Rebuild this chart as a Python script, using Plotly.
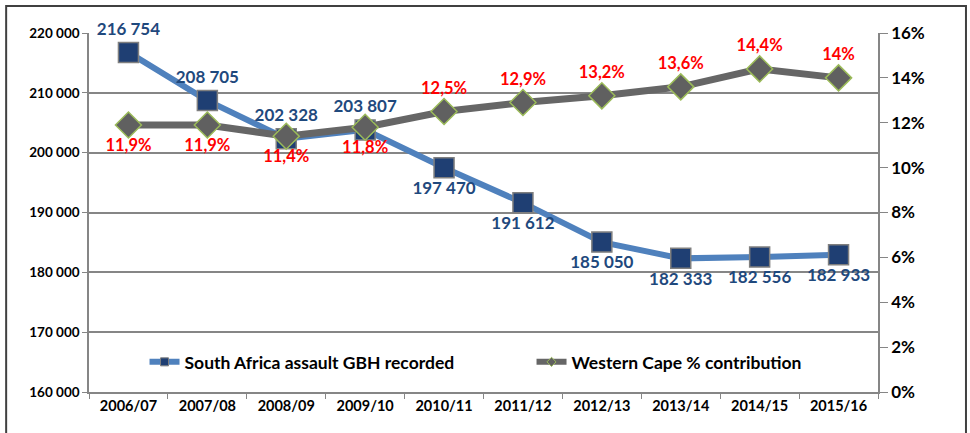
import plotly.graph_objects as go

categories = ["2006/07", "2007/08", "2008/09", "2009/10", "2010/11",
              "2011/12", "2012/13", "2013/14", "2014/15", "2015/16"]
sa_gbh = [216754, 208705, 202328, 203807, 197470, 191612, 185050, 182333, 182556, 182933]
sa_labels = ["216 754", "208 705", "202 328", "203 807", "197 470",
             "191 612", "185 050", "182 333", "182 556", "182 933"]
sa_pos = ["top center"] * 4 + ["bottom center"] * 6
wc_pct = [0.119, 0.119, 0.114, 0.118, 0.125, 0.129, 0.132, 0.136, 0.144, 0.140]
wc_labels = ["11,9%", "11,9%", "11,4%", "11,8%", "12,5%", "12,9%", "13,2%", "13,6%", "14,4%", "14%"]
wc_pos = ["bottom center"] * 4 + ["top center"] * 6
left_ticks = [160000, 170000, 180000, 190000, 200000, 210000, 220000]
left_ticktext = ["160 000", "170 000", "180 000", "190 000", "200 000", "210 000", "220 000"]
right_ticks = [0, 0.02, 0.04, 0.06, 0.08, 0.10, 0.12, 0.14, 0.16]
right_ticktext = ["0%", "2%", "4%", "6%", "8%", "10%", "12%", "14%", "16%"]
names = ["South Africa assault GBH recorded", "Western Cape % contribution"]

FONT = "Lato"
BLUE_LINE, BLUE_MARK, GRAY_LINE, GRAY_MARK, GREEN = "#4F81BD", "#1F3F73", "#666666", "#606060", "#9BBB59"

fig = go.Figure()
fig.add_trace(go.Scatter(
    x=categories, y=sa_gbh, name=names[0], showlegend=False,
    mode="lines+markers+text", text=sa_labels, textposition=sa_pos,
    textfont=dict(family=FONT, size=17, color="#1F497D", weight="bold"),
    line=dict(color=BLUE_LINE, width=6),
    marker=dict(symbol="square", size=20, color=BLUE_MARK,
                line=dict(color="#7F7F7F", width=1.5)),
    cliponaxis=False, yaxis="y"))
fig.add_trace(go.Scatter(
    x=categories, y=wc_pct, name=names[1], showlegend=False,
    mode="lines+markers+text", text=wc_labels, textposition=wc_pos,
    textfont=dict(family=FONT, size=16.5, color="#FF0000", weight="bold"),
    line=dict(color=GRAY_LINE, width=7),
    marker=dict(symbol="diamond", size=20, color=GRAY_MARK,
                line=dict(color=GREEN, width=1.5)),
    cliponaxis=False, yaxis="y2"))
# legend-only entries (smaller markers as in the original legend)
fig.add_trace(go.Scatter(
    x=[None], y=[None], name=names[0], mode="lines+markers",
    line=dict(color=BLUE_LINE, width=6),
    marker=dict(symbol="square", size=8, color=BLUE_MARK, line=dict(color="#7F7F7F", width=1))))
fig.add_trace(go.Scatter(
    x=[None], y=[None], name=names[1], mode="lines+markers", yaxis="y2",
    line=dict(color=GRAY_LINE, width=6),
    marker=dict(symbol="diamond", size=7, color=GRAY_MARK, line=dict(color=GREEN, width=1))))

fig.update_layout(
    width=970, height=433,
    margin=dict(l=89, r=92, t=33, b=41, autoexpand=False),
    paper_bgcolor="white", plot_bgcolor="white",
    font=dict(family=FONT, size=13, color="black"),
    showlegend=True,
    legend=dict(orientation="h", xref="container", yref="container",
                x=0.149, y=0.164, xanchor="left", yanchor="middle",
                bgcolor="rgba(0,0,0,0)", entrywidth=342, entrywidthmode="pixels",
                font=dict(family=FONT, size=17.5, color="black", weight="bold")),
    xaxis=dict(type="category", range=[-0.5, len(categories) - 0.5],
               tickson="boundaries", ticks="outside", ticklen=5,
               tickcolor="#868686", showline=True, linecolor="#868686", linewidth=1.5,
               showgrid=False, automargin=False,
               tickfont=dict(family=FONT, size=14.5, weight="bold")),
    yaxis=dict(range=[160000, 220000], tickvals=left_ticks, ticktext=left_ticktext,
               ticks="outside", ticklen=5, tickcolor="#868686",
               showline=True, linecolor="#868686", linewidth=1.5, automargin=False,
               showgrid=True, gridcolor="#868686", gridwidth=1.5, zeroline=False,
               tickfont=dict(family=FONT, size=13.5, weight="bold")),
    yaxis2=dict(range=[0, 0.16], tickvals=right_ticks, ticktext=right_ticktext,
                overlaying="y", side="right", ticks="outside", ticklen=8,
                tickcolor="#868686", showline=True, linecolor="#868686", linewidth=1.5,
                showgrid=False, zeroline=False, automargin=False,
                tickfont=dict(family=FONT, size=17, weight="bold")),
    shapes=[dict(type="rect", xref="paper", yref="paper",
                 x0=-0.105, x1=1.1115, y0=-0.3, y1=1.075,
                 line=dict(color="#404040", width=2), layer="below")],
)

fig.write_html("out.html", config={"displayModeBar": False},
               post_script="document.body.style.margin='0';")
